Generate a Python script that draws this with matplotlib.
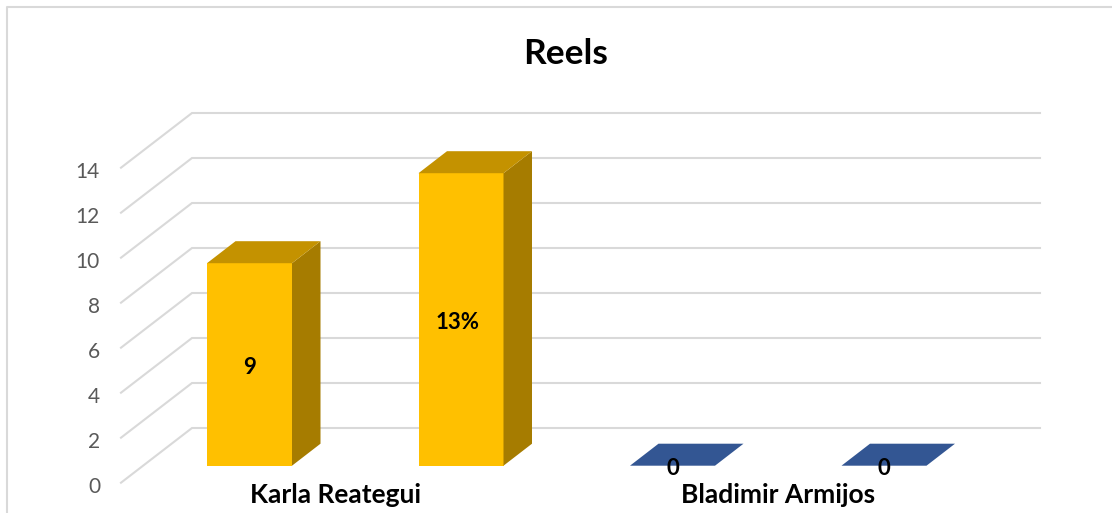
import matplotlib
matplotlib.use('Agg')
import matplotlib.pyplot as plt
from matplotlib.lines import Line2D

plt.rcParams['font.family'] = ['Lato', 'DejaVu Sans']

# data
categories = ['Karla Reategui', 'Bladimir Armijos']
values = [9, 13, 0, 0]
value_labels = ['9', '13%', '0', '0']
y_ticks = [0, 2, 4, 6, 8, 10, 12, 14]
front_colors = ['#FFC000', '#FFC000', '#2F5597', '#2F5597']
side_colors = ['#A67C00', '#A67C00', '#223F71', '#223F71']
top_colors = ['#C49200', '#C49200', '#335693', '#335693']

W, H = 1112, 513
PX_X = 211.5   # pixels per bar slot
PX_Y = 22.5    # pixels per value unit
X0 = 249.5     # pixel of first bar centre
Y0 = 465.7     # pixel of value 0 at the bar front


def dx(px):
    return px / PX_X


def dy(px):
    return px / PX_Y


fig = plt.figure(figsize=(W / 100, H / 100), dpi=100)
ax = fig.add_axes([0, 0, 1, 1])
ax.set_xlim(-X0 / PX_X, (W - X0) / PX_X)
ax.set_ylim((Y0 - H) / PX_Y, Y0 / PX_Y)
ax.axis('off')

# outer chart border, only top and left are in the crop
fig.add_artist(Line2D([7 / W, 7 / W, 1], [0, 1 - 7 / H, 1 - 7 / H],
                      color='#D9D9D9', lw=1.5, transform=fig.transFigure))

# gridlines: front edge -> back wall -> right end
grid_front_x = (121 - X0) / PX_X
grid_back_x = (192 - X0) / PX_X
grid_end_x = (1040 - X0) / PX_X
for v in y_ticks:
    y_front = v - dy(17)
    y_back = v + dy(37.7)
    ax.plot([grid_front_x, grid_back_x, grid_end_x], [y_front, y_back, y_back],
            color='#D9D9D9', lw=1.5, zorder=1, solid_joinstyle='miter')
    ax.text(grid_front_x - dx(21), y_front - dy(4), str(v), ha='right', va='center',
            fontsize=15, color='#595959')

# bars: front face plus top and side faces
bar_w = 85 / PX_X
depth_x = dx(28.5)
depth_y = dy(22)
positions = list(range(len(values)))
ax.bar(positions, values, width=bar_w, color=front_colors, linewidth=0, zorder=3)
for x, v, side, top in zip(positions, values, side_colors, top_colors):
    left, right = x - bar_w / 2, x + bar_w / 2
    ax.fill([right, right + depth_x, right + depth_x, right],
            [0, depth_y, v + depth_y, v], color=side, lw=0, zorder=3)
    ax.fill([left, right, right + depth_x, left + depth_x],
            [v, v, v + depth_y, v + depth_y], color=top, lw=0, zorder=3)

# the 13% label sits a little left of the bar centre in the original
label_shift = [0, -3, 0, 0]
for x, v, label, shift in zip(positions, values, value_labels, label_shift):
    ax.text(x + dx(shift), v / 2 - dy(3), label, ha='center', va='center', fontsize=16,
            fontweight='bold', color='black', zorder=4)

# category labels
label_x = [(335 - X0) / PX_X, (778 - X0) / PX_X]
for x, name in zip(label_x, categories):
    ax.text(x, dy(Y0 - 495), name, ha='center', va='center', fontsize=19,
            fontweight='bold', color='black', zorder=4)

ax.text((566 - X0) / PX_X, dy(Y0 - 54), 'Reels', ha='center', va='center',
        fontsize=25.5, fontweight='bold', color='black')

fig.savefig('out.png', dpi=100)
